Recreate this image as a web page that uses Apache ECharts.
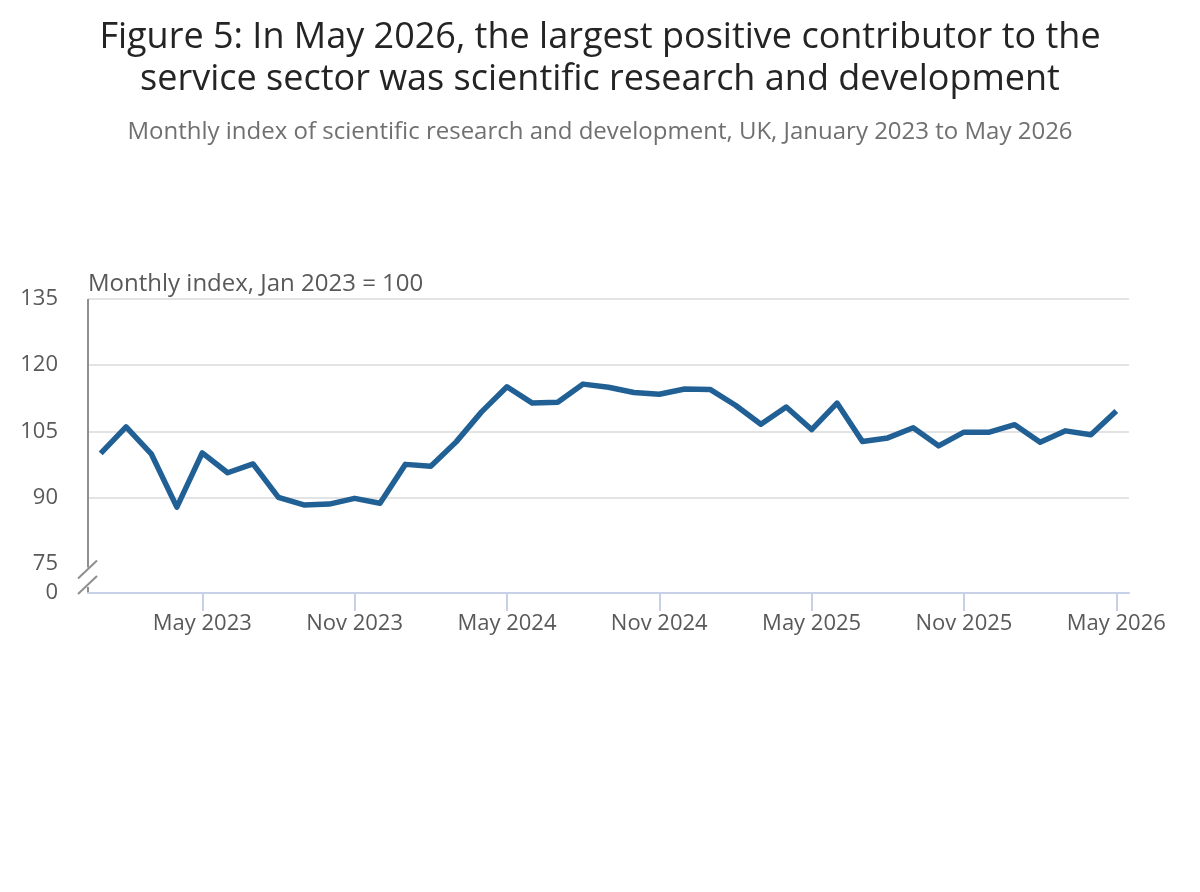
<!DOCTYPE html>
<html>
<head>
<meta charset="utf-8">
<title>Figure 5</title>
<script src="https://cdn.jsdelivr.net/npm/echarts@6/dist/echarts.min.js"></script>
<style>
  html, body { margin: 0; padding: 0; background: #fff; }
  #chart { width: 1200px; height: 892px; }
</style>
</head>
<body>
<div id="chart"></div>
<script>
// monthly index of scientific research and development, Jan 2023 = 100
const months = [
    'Jan 2023', 'Feb 2023', 'Mar 2023', 'Apr 2023', 'May 2023', 'Jun 2023',
    'Jul 2023', 'Aug 2023', 'Sep 2023', 'Oct 2023', 'Nov 2023', 'Dec 2023',
    'Jan 2024', 'Feb 2024', 'Mar 2024', 'Apr 2024', 'May 2024', 'Jun 2024',
    'Jul 2024', 'Aug 2024', 'Sep 2024', 'Oct 2024', 'Nov 2024', 'Dec 2024',
    'Jan 2025', 'Feb 2025', 'Mar 2025', 'Apr 2025', 'May 2025', 'Jun 2025',
    'Jul 2025', 'Aug 2025', 'Sep 2025', 'Oct 2025', 'Nov 2025', 'Dec 2025',
    'Jan 2026', 'Feb 2026', 'Mar 2026', 'Apr 2026', 'May 2026'
];
const indexValues = [
    100.0, 106.0, 99.8, 87.8, 100.1, 95.6, 97.6, 90.0, 88.3, 88.5, 89.8, 88.7,
    97.5, 97.1, 102.6, 109.4, 115.1, 111.4, 111.6, 115.7, 115.0, 113.8, 113.4, 114.6,
    114.5, 110.9, 106.6, 110.5, 105.4, 111.4, 102.7, 103.5, 105.8, 101.7, 104.8, 104.8,
    106.5, 102.5, 105.1, 104.2, 109.6
];
const yTicks = [0, 75, 90, 105, 120, 135];
const firstLabel = 4;   // May 2023
const labelStep = 6;

const FONT = '"Open Sans", "Noto Sans", sans-serif';
const showEvery = (i) => i >= firstLabel && (i - firstLabel) % labelStep === 0;

const chart = echarts.init(document.getElementById('chart'), null, { renderer: 'canvas' });

const option = {
    backgroundColor: '#fff',
    animation: false,
    title: [
        {
            text: 'Figure 5: In May 2026, the largest positive contributor to the\nservice sector was scientific research and development',
            left: 'center',
            top: 12,
            textStyle: {
                fontFamily: FONT,
                fontSize: 36,
                fontWeight: 'normal',
                color: '#242424',
                lineHeight: 42,
                align: 'center'
            }
        },
        {
            text: 'Monthly index of scientific research and development, UK, January 2023 to May 2026',
            left: 'center',
            top: 115,
            textStyle: {
                fontFamily: FONT,
                fontSize: 24,
                fontWeight: 'normal',
                color: '#707070'
            }
        }
    ],
    grid: {
        left: 88,
        right: 71,
        top: 299,
        bottom: 299,
        containLabel: false
    },
    xAxis: {
        type: 'category',
        data: months,
        boundaryGap: true,
        axisLine: { lineStyle: { color: '#c6d1e8', width: 2 } },
        axisTick: {
            show: true,
            alignWithLabel: true,
            length: 18,
            lineStyle: { color: '#c6d1e8', width: 2 }
        },
        axisLabel: {
            interval: (i) => showEvery(i),
            margin: 20,
            fontFamily: FONT,
            fontSize: 22,
            color: '#595959'
        },
        splitLine: { show: false }
    },
    yAxis: {
        type: 'value',
        min: yTicks[0],
        max: yTicks[yTicks.length - 1],
        interval: 15,
        breaks: [{ start: yTicks[0], end: yTicks[1], gap: '10%' }],
        breakArea: { show: false },
        name: 'Monthly index, Jan 2023 = 100',
        nameLocation: 'end',
        nameGap: 3,
        nameTextStyle: {
            fontFamily: FONT,
            fontSize: 24,
            color: '#595959',
            align: 'left',
            verticalAlign: 'bottom'
        },
        axisLine: { show: false },
        axisTick: { show: false },
        axisLabel: {
            margin: 30,
            fontFamily: FONT,
            fontSize: 22,
            color: '#595959'
        },
        splitLine: { lineStyle: { color: '#e3e3e3', width: 2 } }
    },
    series: [
        {
            name: 'Scientific research and development',
            type: 'line',
            data: indexValues,
            symbol: 'none',
            lineStyle: { color: '#206095', width: 5.5, join: 'round' },
            itemStyle: { color: '#206095' }
        }
    ]
};

chart.setOption(option);

// y axis line with the "//" break marks, placed from the axis scale
function drawBreakMarks() {
    const top = chart.convertToPixel({ yAxisIndex: 0 }, yTicks[yTicks.length - 1]);
    const y75 = chart.convertToPixel({ yAxisIndex: 0 }, yTicks[1]);
    const y0 = chart.convertToPixel({ yAxisIndex: 0 }, yTicks[0]);
    const ax = option.grid.left;
    const grey = { stroke: '#8f8f8f', lineWidth: 2 };
    chart.setOption({
        graphic: [
            { type: 'line', shape: { x1: ax, y1: top, x2: ax, y2: y75 + 4 }, style: grey, silent: true },
            { type: 'line', shape: { x1: ax, y1: y0 - 6, x2: ax, y2: y0 }, style: grey, silent: true },
            { type: 'line', shape: { x1: ax - 10, y1: y75 + 15, x2: ax + 9, y2: y75 - 3 }, style: grey, silent: true },
            { type: 'line', shape: { x1: ax - 10, y1: y0 + 1, x2: ax + 9, y2: y0 - 17 }, style: grey, silent: true }
        ]
    });
}
drawBreakMarks();
</script>
</body>
</html>
